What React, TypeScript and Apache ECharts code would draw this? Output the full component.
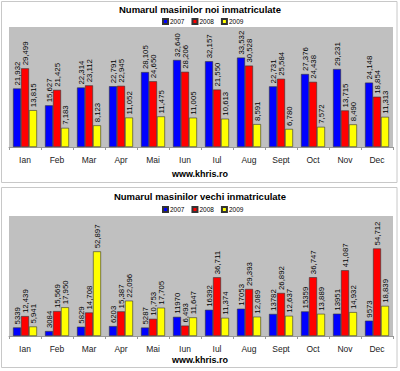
import React, { useEffect, useRef } from "react";
import * as echarts from "echarts";

const months = ["Ian", "Feb", "Mar", "Apr", "Mai", "Iun", "Iul", "Aug", "Sept", "Oct", "Nov", "Dec"];
const years = ["2007", "2008", "2009"];

const noi2007 = [21932, 15627, 22314, 22791, 28105, 32640, 32157, 33532, 22731, 27376, 29231, 24148];
const noi2008 = [29499, 21425, 23112, 22945, 24650, 28206, 21550, 30528, 25584, 24438, 13715, 18854];
const noi2009 = [13815, 7183, 8123, 11052, 11475, 11005, 10613, 8591, 6780, 7572, 8490, 11313];

const vechi2007 = [5339, 3084, 5829, 6203, 5287, 11970, 16392, 17053, 13782, 15359, 13951, 9573];
const vechi2008 = [12439, 15569, 14708, 15387, 10753, 6493, 36711, 29393, 26892, 36747, 41087, 54712];
const vechi2009 = [5941, 17950, 52897, 22096, 17705, 11647, 11374, 12089, 12637, 13889, 14932, 18839];

const title1 = "Numarul masinilor noi inmatriculate";
const title2 = "Numarul masinilor vechi inmatriculate";
const site = "www.khris.ro";

const colors = ["#0000ff", "#ff0000", "#ffff00"];
const FONT = "Liberation Sans, Arial, sans-serif";

const comma = (v: number) => v.toLocaleString("en-US");
const plain = (v: number) => String(v);

export default function App() {
  const ref = useRef<HTMLDivElement>(null);
  useEffect(() => {
    const chart = echarts.init(ref.current!, null, { renderer: "svg" });
    const mkSeries = (data: number[], idx: number, grid: number, fmt: (v: number) => string) => ({
      type: "bar",
      name: years[idx],
      xAxisIndex: grid,
      yAxisIndex: grid,
      data,
      barGap: "0%",
      barCategoryGap: "25%",
      itemStyle: { color: colors[idx], borderColor: "#333", borderWidth: 0.6 },
      label: {
        show: true,
        position: "top",
        rotate: 90,
        align: "left",
        verticalAlign: "middle",
        distance: 3,
        fontSize: 7.8,
        fontFamily: FONT,
        color: "#000",
        formatter: (p: any) => fmt(p.value),
      },
    });
    const xAxis = (grid: number) => ({
      type: "category",
      gridIndex: grid,
      data: months,
      axisLine: { lineStyle: { color: "#999", width: 1 } },
      axisTick: { show: true, length: 3, lineStyle: { color: "#999" } },
      axisLabel: { fontSize: 8.5, fontFamily: FONT, color: "#222", margin: 8 },
    });
    const yAxis = (grid: number, max: number) => ({
      type: "value",
      gridIndex: grid,
      min: 0,
      max,
      show: false,
      splitLine: { show: false },
    });
    const legendStyle = {
      data: years,
      left: 162,
      padding: 0,
      icon: "rect",
      itemWidth: 5,
      itemHeight: 5,
      itemGap: 7,
      textStyle: { fontSize: 6.5, fontFamily: FONT, color: "#000", padding: [0, 0, 0, -3] },
    };
    chart.setOption({
      animation: false,
      backgroundColor: "#fff",
      title: [
        { text: title1, left: "center", top: 4, padding: 0, textStyle: { fontSize: 9.5, fontWeight: "bold", fontFamily: FONT, color: "#000" } },
        { text: title2, left: "center", top: 191, padding: 0, textStyle: { fontSize: 9.5, fontWeight: "bold", fontFamily: FONT, color: "#000" } },
        { text: site, left: "center", top: 169, padding: 0, textStyle: { fontSize: 9, fontWeight: "bold", fontFamily: FONT, color: "#000" } },
        { text: site, left: "center", top: 355, padding: 0, textStyle: { fontSize: 9, fontWeight: "bold", fontFamily: FONT, color: "#000" } },
      ],
      legend: [
        { ...legendStyle, top: 18 },
        { ...legendStyle, top: 206 },
      ],
      graphic: [
        { type: "rect", shape: { x: 1.5, y: 1.5, width: 395.5, height: 181 }, style: { fill: "none", stroke: "#c8c8c8", lineWidth: 1 }, silent: true },
        { type: "rect", shape: { x: 1.5, y: 187.5, width: 395.5, height: 180 }, style: { fill: "none", stroke: "#c8c8c8", lineWidth: 1 }, silent: true },
      ],
      grid: [
        { left: 9, right: 7, top: 27, height: 120, show: true, backgroundColor: "#c0c0c0", borderWidth: 0 },
        { left: 9, right: 7, top: 216, height: 120, show: true, backgroundColor: "#c0c0c0", borderWidth: 0 },
      ],
      xAxis: [xAxis(0), xAxis(1)],
      yAxis: [yAxis(0, 45000), yAxis(1, 75000)],
      series: [
        mkSeries(noi2007, 0, 0, comma),
        mkSeries(noi2008, 1, 0, comma),
        mkSeries(noi2009, 2, 0, comma),
        mkSeries(vechi2007, 0, 1, plain),
        mkSeries(vechi2008, 1, 1, comma),
        mkSeries(vechi2009, 2, 1, comma),
      ],
    });
    return () => chart.dispose();
  }, []);
  return <div ref={ref} style={{ position: "absolute", left: 0, top: 0, width: 400, height: 371 }} />;
}
